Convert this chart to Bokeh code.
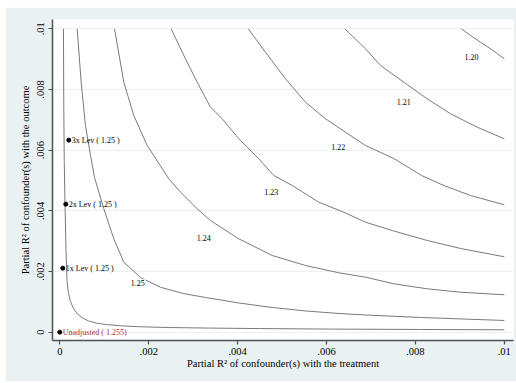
from bokeh.plotting import figure
from bokeh.models import Range1d, FixedTicker, ColumnDataSource
from bokeh.core.properties import value
from bokeh.embed import file_html
from bokeh.resources import INLINE

# ---------------- data ----------------
x_ticks = [0, 0.002, 0.004, 0.006, 0.008, 0.01]
x_tick_labels = ["0", ".002", ".004", ".006", ".008", ".01"]
y_ticks = [0, 0.002, 0.004, 0.006, 0.008, 0.01]
y_tick_labels = ["0", ".002", ".004", ".006", ".008", ".01"]

x_title = "Partial R\u00b2 of confounder(s) with the treatment"
y_title = "Partial R\u00b2 of confounder(s) with the outcome"

# contour lines (partial R2 with treatment, partial R2 with outcome)
c1_x = [0.000083, 0.000089, 0.0001, 0.000117, 0.00014, 0.000162, 0.000196, 0.000241,
        0.000308, 0.000398, 0.000511, 0.000646, 0.000826, 0.001028, 0.001366, 0.001816,
        0.00249, 0.00339, 0.00452, 0.00609, 0.00811, 0.01]
c1_y = [0.01, 0.00764, 0.00566, 0.00424, 0.00269, 0.0017, 0.00128, 0.00101,
        0.00078, 0.0006, 0.00047, 0.00037, 0.0003, 0.000254, 0.000211, 0.000178,
        0.000152, 0.000135, 0.000119, 0.000102, 0.000089, 0.000079]

c2_x = [0.000391, 0.000481, 0.000578, 0.000691, 0.000781, 0.00099, 0.001215, 0.00144,
        0.001816, 0.002266, 0.00279, 0.00328, 0.00403, 0.00478, 0.00553, 0.00628,
        0.00688, 0.00811, 0.01]
c2_y = [0.01, 0.00824, 0.00681, 0.00583, 0.0051, 0.00407, 0.00308, 0.00231,
        0.00180, 0.00148, 0.001270, 0.001144, 0.000962, 0.000814, 0.000699, 0.000616,
        0.000567, 0.000485, 0.000386]

c3_x = [0.001231, 0.00144, 0.001665, 0.001966, 0.002452, 0.002715, 0.003091, 0.00339,
        0.004027, 0.004778, 0.005528, 0.006277, 0.006878, 0.007514, 0.008266, 0.009015, 0.01]
c3_y = [0.01, 0.00824, 0.00714, 0.006154, 0.005056, 0.004614, 0.004067, 0.00368,
        0.003078, 0.002528, 0.002198, 0.001958, 0.001813, 0.001595, 0.00143, 0.001318, 0.001233]

c4_x = [0.002506, 0.00279, 0.003091, 0.00339, 0.003654, 0.004027, 0.004477, 0.004814,
        0.005228, 0.005827, 0.006427, 0.006878, 0.007514, 0.008266, 0.009015, 0.01]
c4_y = [0.01, 0.00912, 0.00824, 0.007416, 0.007034, 0.006374, 0.005715, 0.005165,
        0.004835, 0.004285, 0.003929, 0.003626, 0.003336, 0.003022, 0.002759, 0.002485]

c5_x = [0.004238, 0.004628, 0.005078, 0.005528, 0.005978, 0.006427, 0.006878, 0.007514,
        0.008137, 0.008639, 0.00924, 0.01]
c5_y = [0.01, 0.009229, 0.008352, 0.007581, 0.007034, 0.006592, 0.006154, 0.005725,
        0.005165, 0.004835, 0.004505, 0.004199]

c6_x = [0.006412, 0.006878, 0.007216, 0.007739, 0.008265, 0.00879, 0.00939, 0.01]
c6_y = [0.01, 0.009341, 0.00879, 0.00824, 0.007693, 0.0072, 0.006757, 0.006374]

c7_x = [0.009037, 0.00924, 0.009465, 0.00973, 0.01]
c7_y = [0.01, 0.00978, 0.009558, 0.0093, 0.009011]

contour_label_text = ["1.20", "1.21", "1.22", "1.23", "1.24", "1.25"]
contour_label_x = [0.00926, 0.00774, 0.006263, 0.004756, 0.00324, 0.001755]
contour_label_y = [0.009064, 0.0076, 0.0061, 0.004614, 0.00311, 0.001615]

bench_labels = ["1x Lev ( 1.25 )", "2x Lev ( 1.25 )", "3x Lev ( 1.25 )"]
bench_x = [0.0000675, 0.000135, 0.0002025]
bench_y = [0.00211, 0.00422, 0.00633]

unadj_label = ["Unadjusted ( 1.255)"]
unadj_x = [0.0]
unadj_y = [0.0]

# ---------------- figure ----------------
FONT = "Liberation Serif"
BG = "#EAF1F3"
AX = "#505050"

p = figure(width=511, height=374,
           x_range=Range1d(-0.000164, 0.010207),
           y_range=Range1d(-0.000274, 0.010306),
           output_backend="svg", toolbar_location=None,
           min_border_left=47, min_border_right=3,
           min_border_top=12, min_border_bottom=41,
           background_fill_color="white", border_fill_color=BG,
           outline_line_color=None)
p.margin = (7, 0, 2, 5)

p.xgrid.visible = False
p.ygrid.ticker = FixedTicker(ticks=y_ticks)
p.ygrid.grid_line_color = BG
p.ygrid.grid_line_width = 1.2

for ax, ticks, labels in ((p.xaxis[0], x_ticks, x_tick_labels),
                          (p.yaxis[0], y_ticks, y_tick_labels)):
    ax.ticker = FixedTicker(ticks=ticks)
    ax.major_label_overrides = {t: l for t, l in zip(ticks, labels)}
    ax.axis_line_color = AX
    ax.axis_line_width = 1.5
    ax.major_tick_line_color = AX
    ax.major_tick_line_width = 1.2
    ax.major_tick_out = 4
    ax.major_tick_in = 0
    ax.minor_tick_out = 0
    ax.minor_tick_in = 0
    ax.major_label_text_font = FONT
    ax.major_label_text_font_size = "10.5px"
    ax.major_label_text_color = "black"
    ax.axis_label_text_font = FONT
    ax.axis_label_text_font_size = "10.5px"
    ax.axis_label_text_font_style = "normal"
    ax.axis_label_text_color = "black"

p.xaxis.axis_label = x_title
p.yaxis.axis_label = y_title
p.xaxis.major_label_standoff = 3
p.yaxis.major_label_standoff = 4
p.xaxis.axis_label_standoff = 0
p.yaxis.axis_label_standoff = 4
p.yaxis.major_label_orientation = "vertical"

LINE = "#7A7A7A"
for cx, cy in ((c1_x, c1_y), (c2_x, c2_y), (c3_x, c3_y), (c4_x, c4_y),
               (c5_x, c5_y), (c6_x, c6_y), (c7_x, c7_y)):
    p.line(cx, cy, line_color=LINE, line_width=1, line_join="round")

lab_src = ColumnDataSource(dict(x=contour_label_x, y=contour_label_y, t=contour_label_text))
p.text("x", "y", text="t", source=lab_src, text_font=value(FONT),
       text_font_size=value("8px"), text_color="black",
       text_align="center", text_baseline="middle",
       background_fill_color="white", padding=1)

bench_src = ColumnDataSource(dict(x=bench_x, y=bench_y, t=bench_labels))
p.scatter("x", "y", source=bench_src, size=4, color="black")
p.text("x", "y", text="t", source=bench_src, x_offset=3, text_font=value(FONT),
       text_font_size=value("8px"), text_color="black",
       text_align="left", text_baseline="middle")

un_src = ColumnDataSource(dict(x=unadj_x, y=unadj_y, t=unadj_label))
p.scatter("x", "y", source=un_src, size=4, color="black")
p.text("x", "y", text="t", source=un_src, x_offset=3, text_font=value(FONT),
       text_font_size=value("8px"), text_color="#A0323F",
       text_align="left", text_baseline="middle")

open("out.html", "w").write(file_html(p, INLINE))
